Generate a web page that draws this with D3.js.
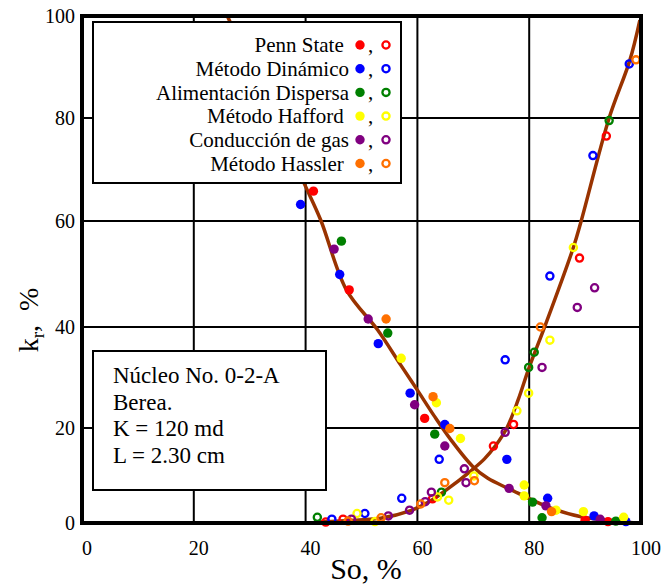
<!DOCTYPE html>
<html>
<head>
<meta charset="utf-8">
<script src="https://cdn.jsdelivr.net/npm/d3@7"></script>
<style>
  body { margin: 0; background: #fff; }
</style>
</head>
<body>
<svg width="663" height="584" font-family="'Liberation Serif', 'Times New Roman', 'DejaVu Serif', serif"></svg>
<script>
// tick values
var xTicks = [0, 20, 40, 60, 80, 100];
var yTicks = [0, 20, 40, 60, 80, 100];

// series names and colours (legend order)
var names  = ['Penn State\u00a0', 'Método Dinámico', 'Alimentación Dispersa', 'Método Hafford\u00a0', 'Conducción de gas', 'Método Hassler\u00a0'];
var colors = ['#ff0000', '#0000ff', '#008000', '#ffff00', '#800080', '#ff7000'];

// filled points [So, kr] (falling curve)
var pennFilled    = [[41.4, 65.8], [47.8, 47], [61.3, 21.9], [90, 0.6], [94.1, 0.3]];
var dinamFilled   = [[39.1, 63.2], [46.1, 49.9], [53, 36.7], [58.7, 26.9], [64.9, 20.7], [76, 13.4], [83.3, 5.2], [91.6, 1.5], [97.3, 0.3]];
var dispFilled    = [[46.4, 56.2], [54.7, 38.8], [63.1, 18.7], [80.6, 4.4], [82.3, 1.1], [95.5, 0.4]];
var haffFilled    = [[57.1, 33.8], [63.4, 25], [67.7, 17.8], [79.1, 8], [79.1, 5.7], [84.8, 2.7], [89.7, 2.4], [96.9, 1.2]];
var gasFilled     = [[45.1, 54.7], [51.2, 41.5], [59.5, 24.6], [64.9, 16.2], [76.4, 7.3], [83, 3.6], [92.7, 0.8]];
var hassFilled    = [[54.4, 41.5], [62.8, 26.2], [65.8, 19.9], [84, 2.4]];

// open points [So, kr] (rising curve)
var pennOpen  = [[43.6, 0.2], [46.7, 0.8], [62.7, 5.1], [73.6, 16.2], [77.2, 20.7], [89, 53], [93.8, 76.5]];
var dinamOpen = [[44.7, 0.8], [50.6, 2], [57.2, 5.2], [63.9, 13.4], [75.7, 33.5], [83.7, 49.6], [91.4, 72.7], [97.9, 90.6]];
var dispOpen  = [[42.1, 1.2], [64.3, 6.5], [79.9, 32], [80.9, 35], [94.3, 79.5]];
var haffOpen  = [[49.2, 2], [52.4, 0.3], [63.6, 5.5], [65.6, 4.8], [70.1, 9.9], [77.8, 23.4], [79.9, 26.9], [83.7, 37.4], [87.9, 55]];
var gasOpen   = [[48.2, 0.8], [54.8, 1.5], [58.6, 2.7], [61.4, 4.5], [62.5, 6.5], [68.4, 11.4], [68.7, 8.5], [75.7, 19.1], [82.3, 32], [88.6, 43.7], [91.7, 47.4]];
var hassOpen  = [[47.6, 0.4], [53.5, 1.1], [60.6, 4], [64.9, 8.5], [70.2, 8.9], [82, 40], [99.1, 91.4]];

// fitted curves [So, kr]
var curveFall = [[26, 100], [39.7, 67.4], [42.7, 60.2], [47.3, 47], [52.9, 39.4], [57, 32.5], [60, 27.5], [63, 22.4], [66, 17.5], [69.9, 11.9], [72.6, 9.4], [76.4, 7.2], [83.3, 3.4], [89.3, 1.3], [96.5, 0.3], [99, 0]];
var curveRise = [[41.5, 0.2], [47, 0.5], [53.4, 1], [58.8, 2.6], [62, 4.4], [65, 6.8], [69.8, 11.2], [72, 13.5], [74, 16.3], [76, 20], [78, 25.5], [80, 32], [82.9, 40.4], [87.9, 55], [89.3, 60], [94.3, 80], [98, 91.3], [99.8, 99.2]];

var filled = [pennFilled, dinamFilled, dispFilled, haffFilled, gasFilled, hassFilled];
var open   = [pennOpen, dinamOpen, dispOpen, haffOpen, gasOpen, hassOpen];

var svg = d3.select('svg');

var x = d3.scaleLinear().domain([0, 100]).range([82, 641]);
// the scanned axis is slightly uneven, so map each gridline
var y = d3.scaleLinear().domain(yTicks).range([523, 428, 327, 221, 118, 16]);

svg.append('rect').attr('width', 663).attr('height', 584).attr('fill', '#fff');

// gridlines
svg.append('g').selectAll('line').data(xTicks.slice(1, -1)).enter().append('line')
  .attr('x1', function(d) { return x(d); }).attr('x2', function(d) { return x(d); })
  .attr('y1', y(0)).attr('y2', y(100))
  .attr('stroke', '#000').attr('stroke-width', 2);
svg.append('g').selectAll('line').data(yTicks.slice(1, -1)).enter().append('line')
  .attr('y1', function(d) { return y(d); }).attr('y2', function(d) { return y(d); })
  .attr('x1', x(0)).attr('x2', x(100))
  .attr('stroke', '#000').attr('stroke-width', 2);

// curves
var line = d3.line()
  .x(function(d) { return x(d[0]); })
  .y(function(d) { return y(d[1]); })
  .curve(d3.curveCatmullRom);
[curveFall, curveRise].forEach(function(c) {
  svg.append('path').datum(c).attr('d', line)
    .attr('fill', 'none').attr('stroke', '#993300').attr('stroke-width', 3.5);
});

// points
filled.forEach(function(s, i) {
  svg.append('g').selectAll('circle').data(s).enter().append('circle')
    .attr('cx', function(d) { return x(d[0]); })
    .attr('cy', function(d) { return y(d[1]); })
    .attr('r', 4.7)
    .attr('fill', colors[i]);
});
open.forEach(function(s, i) {
  svg.append('g').selectAll('circle').data(s).enter().append('circle')
    .attr('cx', function(d) { return x(d[0]); })
    .attr('cy', function(d) { return y(d[1]); })
    .attr('r', 3.6)
    .attr('fill', 'none')
    .attr('stroke', colors[i]).attr('stroke-width', 2.3);
});

// legend
var lg = svg.append('g');
lg.append('rect').attr('x', 93).attr('y', 22).attr('width', 308).attr('height', 161)
  .attr('fill', '#fff').attr('stroke', '#000').attr('stroke-width', 2);
names.forEach(function(n, i) {
  var yy = 45 + i * 23.7;
  lg.append('text').attr('x', 349).attr('y', yy).attr('dy', '0.35em')
    .attr('text-anchor', 'end').attr('font-size', 21).text(n);
  lg.append('circle').attr('cx', 360).attr('cy', yy).attr('r', 4.7).attr('fill', colors[i]);
  lg.append('text').attr('x', 368).attr('y', yy + 7).attr('font-size', 21).text(',');
  lg.append('circle').attr('cx', 386).attr('cy', yy).attr('r', 3.6)
    .attr('fill', 'none').attr('stroke', colors[i]).attr('stroke-width', 2.3);
});

// info box
var info = ['Núcleo No. 0-2-A', 'Berea.', 'K = 120 md', 'L = 2.30 cm'];
var ib = svg.append('g');
ib.append('rect').attr('x', 93).attr('y', 351).attr('width', 233).attr('height', 139)
  .attr('fill', '#fff').attr('stroke', '#000').attr('stroke-width', 2);
info.forEach(function(t, i) {
  ib.append('text').attr('x', 113).attr('y', 383 + i * 26.7)
    .attr('font-size', 23).text(t);
});

// frame
svg.append('rect').attr('x', x(0)).attr('y', y(100))
  .attr('width', x(100) - x(0)).attr('height', y(0) - y(100))
  .attr('fill', 'none').attr('stroke', '#000').attr('stroke-width', 4);

// tick labels
svg.append('g').selectAll('text').data(xTicks).enter().append('text')
  .attr('x', function(d) { return x(d) + 5; }).attr('y', 555)
  .attr('text-anchor', 'middle').attr('font-size', 20)
  .text(function(d) { return d; });
svg.append('g').selectAll('text').data(yTicks).enter().append('text')
  .attr('x', 75).attr('y', function(d) { return y(d); }).attr('dy', '0.35em')
  .attr('text-anchor', 'end').attr('font-size', 20)
  .text(function(d) { return d; });

// axis titles
svg.append('text').attr('x', 366).attr('y', 579).attr('text-anchor', 'middle')
  .attr('font-size', 30).text('So, %');
var yt = svg.append('text').attr('transform', 'translate(38,320) rotate(-90)')
  .attr('text-anchor', 'middle').attr('font-size', 28);
yt.append('tspan').text('k');
yt.append('tspan').attr('dy', 6).attr('font-size', 19).text('r');
yt.append('tspan').attr('dy', -6).text(',\u00a0\u00a0%');
</script>
</body>
</html>
